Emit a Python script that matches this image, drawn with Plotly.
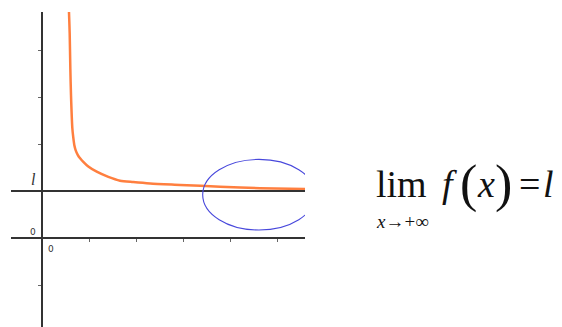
import plotly.graph_objects as go

# courbe f(x) -> l quand x -> +inf (1 unité = un pas de graduation)
x_courbe = [0.566, 0.574, 0.589, 0.603, 0.617, 0.645, 0.664, 0.687, 0.719, 0.760, 0.815, 0.879, 0.985,
            1.164, 1.411, 1.66, 1.94, 2.30, 2.94, 3.79, 4.64, 5.60]
y_courbe = [5.06, 4.81, 4.36, 3.60, 3.04, 2.34, 2.15, 1.98, 1.86, 1.77, 1.69, 1.62, 1.52,
            1.41, 1.30, 1.22, 1.19, 1.16, 1.13, 1.09, 1.06, 1.04]

limite_l = 1.0
graduations_x = [1, 2, 3, 4, 5]
graduations_y = [-1, 1, 2, 3, 4]

# ellipse bleue autour de la zone "x grand"
ellipse_centre = (4.617, 0.921)
ellipse_rayons = (1.198, 0.751)

W, H = 562, 327
ML, MR, MT, MB = 11, 257, 12, 0


def px_x(p):
    return (p - ML) / (W - ML - MR)


def px_y(p):
    return (H - MB - p) / (H - MT - MB)


fig = go.Figure()
fig.add_trace(go.Scatter(
    x=x_courbe, y=y_courbe,
    mode='lines',
    line=dict(color='#FF7F3F', width=2.5, shape='spline', smoothing=0.7),
    hoverinfo='skip',
    showlegend=False
))

# droite y = l
fig.add_shape(type='line', xref='paper', yref='y', x0=0, x1=1, y0=limite_l, y1=limite_l,
              line=dict(color='#333333', width=2))

# ellipse
cx, cy = ellipse_centre
rx, ry = ellipse_rayons
fig.add_shape(type='circle', xref='x', yref='y',
              x0=cx - rx, x1=cx + rx, y0=cy - ry, y1=cy + ry,
              line=dict(color='#4848DC', width=1.1))

serif = 'Liberation Serif'
sans = 'DejaVu Sans'

# étiquettes des axes + formule : (texte, x px, y px, taille, police)
textes = [
    ('<i>l</i>', 33, 179, 16, serif, '#333333'),
    ('0', 32.5, 232, 9, sans, '#333333'),
    ('0', 50.5, 248.5, 9, sans, '#333333'),
    ('lim', 401.4, 184, 38, serif, '#111111'),
    ('<i>x</i>→+∞', 402.5, 221, 19, serif, '#111111'),
    ('<i>f</i>', 449.5, 184, 38, serif, '#111111'),
    ('(', 468, 184, 52, serif, '#111111'),
    ('<i>x</i>', 486, 184, 38, serif, '#111111'),
    (')', 503, 184, 52, serif, '#111111'),
    ('=', 529, 184, 38, serif, '#111111'),
    ('<i>l</i>', 548, 184, 38, serif, '#111111'),
]
for txt, xp, yp, taille, police, coul in textes:
    fig.add_annotation(x=px_x(xp), y=px_y(yp), xref='paper', yref='paper', text=txt,
                       showarrow=False, xanchor='center', yanchor='middle',
                       font=dict(family=police, size=taille, color=coul))

fig.update_layout(
    width=W, height=H,
    plot_bgcolor='white',
    paper_bgcolor='white',
    margin=dict(l=ML, r=MR, t=MT, b=MB, pad=0, autoexpand=False),
    showlegend=False
)
fig.update_xaxes(
    range=[(11 - 42) / 47, (305 - 42) / 47],
    anchor='free', position=px_y(238),
    showline=True, linecolor='#333333', linewidth=1.5,
    showgrid=False, zeroline=False,
    tickvals=graduations_x, ticks='outside', ticklen=3, tickcolor='#666666',
    showticklabels=False
)
fig.update_yaxes(
    range=[(238 - 327) / 47, (238 - 12) / 47],
    anchor='free', position=px_x(42),
    showline=True, linecolor='#333333', linewidth=1.5,
    showgrid=False, zeroline=False,
    tickvals=graduations_y, ticks='outside', ticklen=3, tickcolor='#666666',
    showticklabels=False
)

# la page ne doit pas ajouter de marge autour du graphique
fig.write_html("out.html", config={'displayModeBar': False},
               post_script="document.body.style.margin='0px';document.body.style.overflow='hidden';")
